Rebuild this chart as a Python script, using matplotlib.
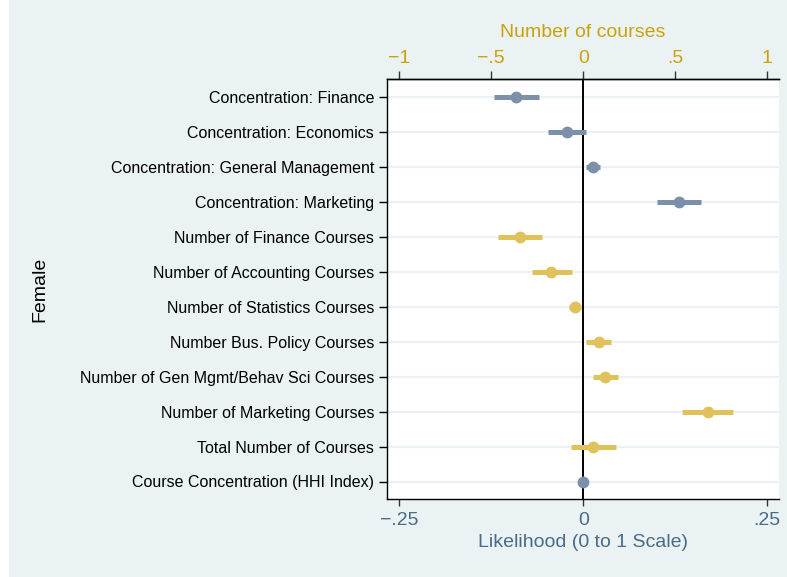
import matplotlib.pyplot as plt
from matplotlib.patches import Rectangle

plt.rcParams['font.family'] = ['Liberation Sans', 'DejaVu Sans']

# row labels, top to bottom
labels = [
    'Concentration: Finance',
    'Concentration: Economics',
    'Concentration: General Management',
    'Concentration: Marketing',
    'Number of Finance Courses',
    'Number of Accounting Courses',
    'Number of Statistics Courses',
    'Number Bus. Policy Courses',
    'Number of Gen Mgmt/Behav Sci Courses',
    'Number of Marketing Courses',
    'Total Number of Courses',
    'Course Concentration (HHI Index)',
]

# concentration rows (bottom axis, likelihood scale)
conc_est = [-0.092, -0.022, 0.013, 0.130]
conc_lo = [-0.122, -0.048, 0.004, 0.100]
conc_hi = [-0.060, 0.003, 0.023, 0.160]

# number-of-courses rows (top axis)
course_est = [-0.344, -0.174, -0.045, 0.083, 0.120, 0.676, 0.054]
course_lo = [-0.462, -0.277, -0.076, 0.015, 0.053, 0.538, -0.069]
course_hi = [-0.226, -0.063, -0.013, 0.150, 0.190, 0.813, 0.178]

# HHI row (bottom axis)
hhi_est = [0.0]

bottom_ticks = [-0.25, 0, 0.25]
bottom_ticklabels = ['\u2212.25', '0', '.25']
top_ticks = [-1, -0.5, 0, 0.5, 1]
top_ticklabels = ['\u22121', '\u2212.5', '0', '.5', '1']

bg = '#EAF2F3'
blue = '#7C91A9'
gold = '#DFC25C'
blue_txt = '#4A6B8A'
gold_txt = '#C9A20A'

fig = plt.figure(figsize=(7.87, 5.77), dpi=100, facecolor=bg)
fig.patches.append(Rectangle((0, 0), 8 / 787, 1, transform=fig.transFigure,
                             color='white', zorder=0))

ax = fig.add_axes([387 / 787, 78 / 577, 392 / 787, 420 / 577])
ax.set_facecolor('white')

rows = list(range(1, len(labels) + 1))
conc_rows = rows[:4]
course_rows = rows[4:11]
hhi_rows = rows[11:]

ax.set_xlim(-0.2667, 0.2659)
ax.set_ylim(12.5, 0.5)
ax.axvline(0, color='black', lw=1.4, zorder=1)

ax.hlines(conc_rows, conc_lo, conc_hi, color=blue, lw=3.6, zorder=3)
ax.plot(conc_est, conc_rows, 'o', color=blue, ms=7.5, zorder=4)
ax.plot(hhi_est, hhi_rows, 'o', color=blue, ms=7.5, zorder=4)

ax.set_yticks(rows)
ax.set_yticklabels(labels)
ax.yaxis.grid(True, color=bg, lw=1.6)
ax.set_axisbelow(True)
ax.tick_params(axis='y', direction='out', length=5.8, width=1, labelsize=11.5,
               pad=3.5, colors='black')

ax.set_xticks(bottom_ticks)
ax.set_xticklabels(bottom_ticklabels)
ax.tick_params(axis='x', direction='out', length=5.2, width=1, labelsize=14,
               pad=4.5, colors='#333333', labelcolor=blue_txt)
ax.set_xlabel('Likelihood (0 to 1 Scale)', fontsize=14, color=blue_txt,
              labelpad=3.5)

for s in ['left', 'bottom', 'top']:
    ax.spines[s].set_color('black')
    ax.spines[s].set_linewidth(1)
ax.spines['right'].set_visible(False)

ax2 = ax.twiny()
ax2.set_xlim(-0.2667 * 4, 0.2659 * 4)
ax2.hlines(course_rows, course_lo, course_hi, color=gold, lw=3.6, zorder=3)
ax2.plot(course_est, course_rows, 'o', color=gold, ms=7.5, zorder=4)
ax2.set_xticks(top_ticks)
ax2.set_xticklabels(top_ticklabels)
ax2.tick_params(axis='x', direction='out', length=5.8, width=1, labelsize=14,
                pad=3, colors='#333333', labelcolor=gold_txt)
ax2.set_xlabel('Number of courses', fontsize=14, color=gold_txt, labelpad=9)
for s in ['left', 'bottom', 'right']:
    ax2.spines[s].set_visible(False)
ax2.spines['top'].set_color('black')
ax2.spines['top'].set_linewidth(1)

fig.text(40 / 787, 1 - 289 / 577, 'Female', rotation=90, fontsize=14,
         ha='center', va='center', color='black')

fig.savefig('out.png', dpi=100, facecolor=bg)
